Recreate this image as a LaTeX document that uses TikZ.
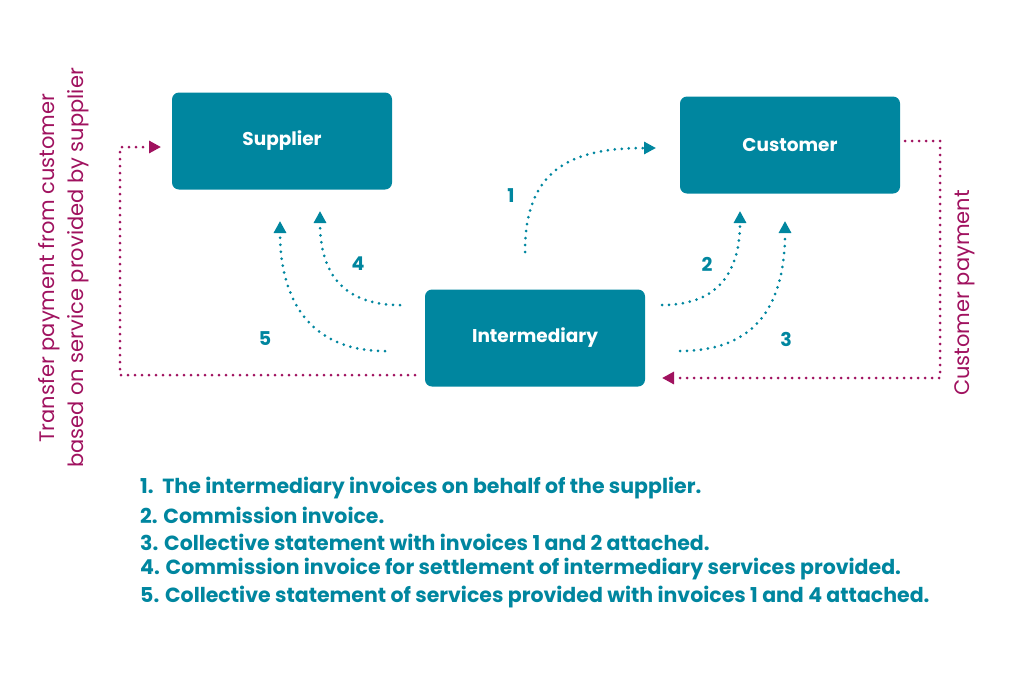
\documentclass[tikz,border=0pt]{standalone}
\usepackage{fontspec}
\setmainfont{Poppins}
\usetikzlibrary{arrows.meta}
\definecolor{teal1}{HTML}{00869F}
\definecolor{plum1}{HTML}{A0125F}
\begin{document}
\begin{tikzpicture}[x=1pt,y=-1pt]
\tikzset{ >={Triangle[length=12pt,width=12pt]},
  party/.style={fill=teal1, rounded corners=7pt, minimum width=220pt, minimum height=97pt,
    text=white, font=\bfseries\fontsize{18.5}{22}\selectfont, inner sep=0pt},
  flow/.style={teal1, line width=3pt, dash pattern=on 0pt off 7pt, line cap=round, ->},
  pay/.style={plum1, line width=3pt, dash pattern=on 0pt off 7pt, line cap=round, ->},
  num/.style={teal1, font=\bfseries\fontsize{19}{22}\selectfont},
  side/.style={plum1, font=\fontsize{21}{29}\selectfont, rotate=90, align=center},
  item/.style={teal1, anchor=west, font=\bfseries\fontsize{20.5}{24}\selectfont, inner sep=0pt},
}
\useasboundingbox (0,0) rectangle (1024,683);

%\draw [lightgray, dashed](0,0) grid[step=100] (1024,683);

\node [party] (S) at (282,141) {Supplier};
\node [party] (C) at (790,145) {Customer};
\node [party] (I) at (535,338) {Intermediary};

\coordinate (a1) at (525,252); \coordinate (b1) at (656,148);
\coordinate (a4) at (400,305); \coordinate (b4) at (320,211);
\coordinate (a5) at (385,351); \coordinate (b5) at (280,221);
\coordinate (a2) at (662,305); \coordinate (b2) at (740,211);
\coordinate (a3) at (680,351); \coordinate (b3) at (785,221);

\draw [flow] (a1) .. controls (525,170) and (570,148) .. (b1);
\draw [flow] (a4) .. controls (340,305) and (320,270) .. (b4);
\draw [flow] (a5) .. controls (310,351) and (280,300) .. (b5);
\draw [flow] (a2) .. controls (720,305) and (740,270) .. (b2);
\draw [flow] (a3) .. controls (760,351) and (785,300) .. (b3);

\coordinate (p1) at (415,375); \coordinate (p2) at (120,375);
\coordinate (p3) at (120,147); \coordinate (p4) at (161,147);
\coordinate (q1) at (905,141); \coordinate (q2) at (940,141);
\coordinate (q3) at (940,378); \coordinate (q4) at (662,378);
\draw [pay] (p1) -- (p2) -- (p3) -- (p4);
\draw [pay] (q1) -- (q2) -- (q3) -- (q4);

\node [num] (n1) at (511,196) {1};
\node [num] (n2) at (707,264) {2};
\node [num] (n3) at (786,339) {3};
\node [num] (n4) at (358,264) {4};
\node [num] (n5) at (265,339) {5};

\node [side] (tl) at (64,268) {Transfer payment from customer\\based on service provided by supplier};
\node [side] (tr) at (965,293) {Customer payment};

\node [item] (l1) at (140,488) {1.\ \ The intermediary invoices on behalf of the supplier.};
\node [item] (l2) at (140,515) {2. Commission invoice.};
\node [item] (l3) at (140,542) {3. Collective statement with invoices 1 and 2 attached.};
\node [item] (l4) at (140,569) {4. Commission invoice for settlement of intermediary services provided.};
\node [item] (l5) at (140,597) {5. Collective statement of services provided with invoices 1 and 4 attached.};
\end{tikzpicture}
\end{document}
